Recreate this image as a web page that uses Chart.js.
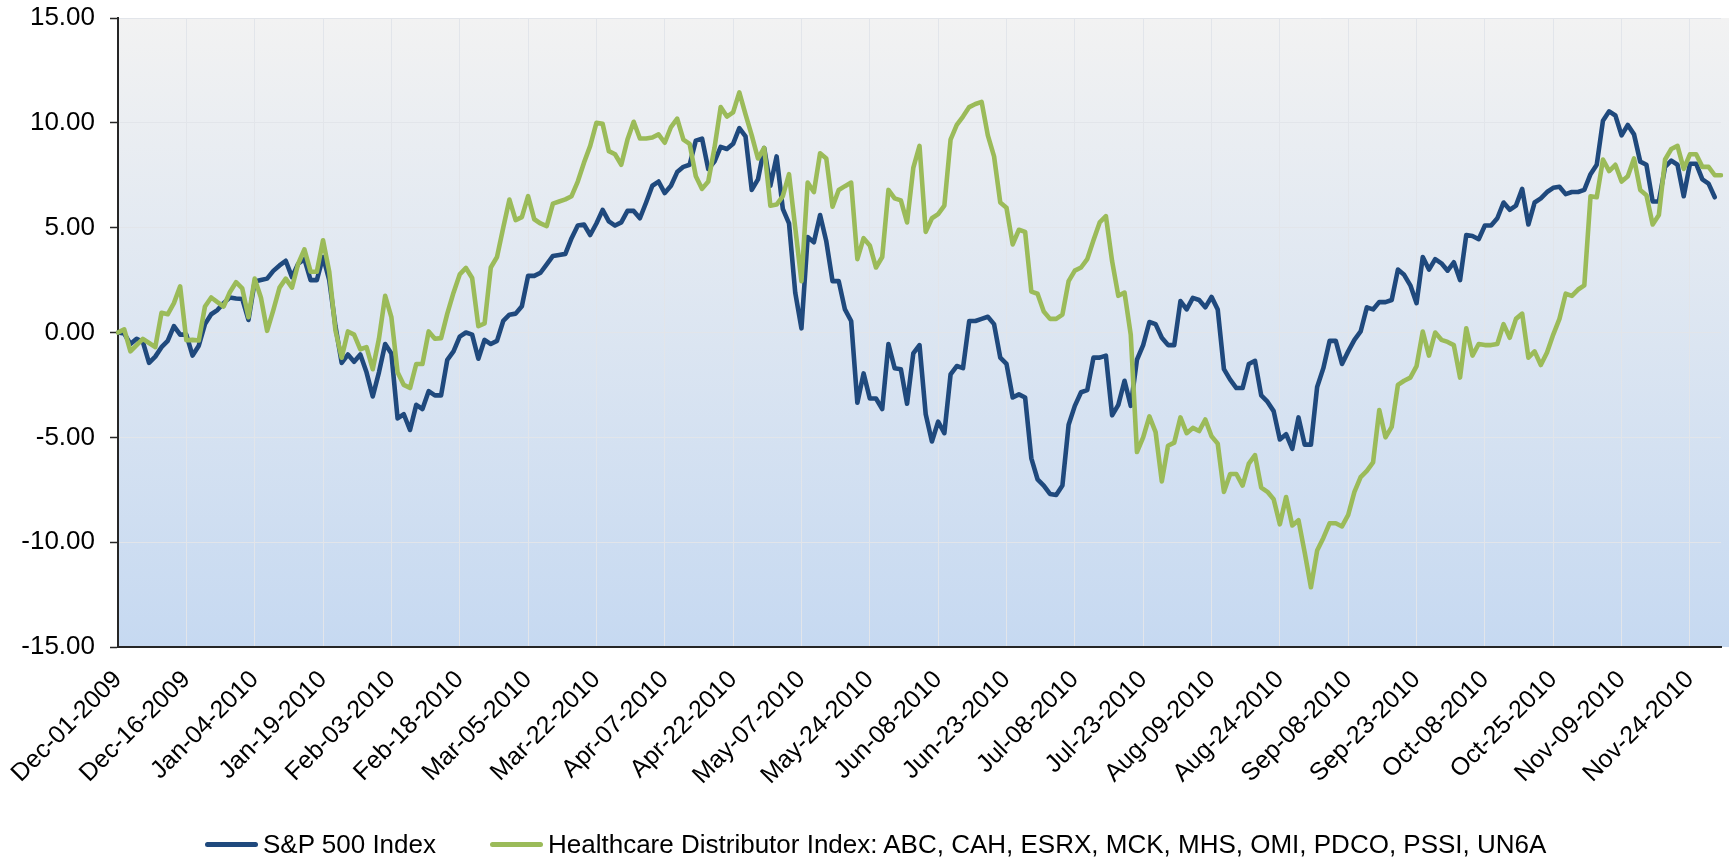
<!DOCTYPE html>
<html>
<head>
<meta charset="utf-8">
<title>S&amp;P 500 vs Healthcare Distributor Index</title>
<script src="https://cdn.jsdelivr.net/npm/chart.js@4/dist/chart.umd.min.js"></script>
<style>
  body { margin: 0; background: #fff; }
  #wrap { position: relative; width: 1729px; height: 858px; }
  #legend {
    position: absolute; left: 205px; top: 828px;
    display: flex; align-items: center; white-space: nowrap;
    font: 26px Arial, "Liberation Sans", sans-serif; color: #000; line-height: 32px;
  }
  .item { display: flex; align-items: center; }
  .item + .item { margin-left: 54px; }
  .swatch { display: inline-block; width: 53px; height: 5px; border-radius: 3px; margin-right: 5px; }
</style>
</head>
<body>
<div id="wrap">
  <canvas id="chart" width="1729" height="858"></canvas>
  <div id="legend"></div>
</div>
<script>
// tick labels, one every 11 trading days
const tickLabels = [
  "Dec-01-2009", "Dec-16-2009", "Jan-04-2010", "Jan-19-2010", "Feb-03-2010", "Feb-18-2010",
  "Mar-05-2010", "Mar-22-2010", "Apr-07-2010", "Apr-22-2010", "May-07-2010", "May-24-2010",
  "Jun-08-2010", "Jun-23-2010", "Jul-08-2010", "Jul-23-2010", "Aug-09-2010", "Aug-24-2010",
  "Sep-08-2010", "Sep-23-2010", "Oct-08-2010", "Oct-25-2010", "Nov-09-2010", "Nov-24-2010"
];
const tickEvery = 11;

const seriesNames = [
  "S&P 500 Index",
  "Healthcare Distributor Index: ABC, CAH, ESRX, MCK, MHS, OMI, PDCO, PSSI, UN6A"
];
const seriesColors = ["#1F497D", "#9BBB59"];

// % change
const spIndex = [
  0.0, -0.05, -0.55, -0.3, -0.45, -1.45, -1.15, -0.7, -0.4, 0.3, -0.1,
  -0.1, -1.1, -0.63, 0.4, 0.87, 1.07, 1.4, 1.67, 1.62, 1.6, 0.6,
  2.43, 2.5, 2.57, 2.94, 3.2, 3.42, 2.64, 3.28, 3.5, 2.5, 2.5,
  3.6, 2.5, 0.3, -1.45, -1.05, -1.4, -1.05, -1.9, -3.05, -1.9, -0.55,
  -1.0, -4.1, -3.9, -4.65, -3.45, -3.65, -2.8, -3.0, -3.0, -1.3, -0.9,
  -0.2, 0.0, -0.1, -1.25, -0.35, -0.55, -0.4, 0.55, 0.85, 0.9, 1.25,
  2.7, 2.7, 2.85, 3.25, 3.65, 3.7, 3.75, 4.5, 5.1, 5.15, 4.65,
  5.2, 5.85, 5.3, 5.1, 5.25, 5.8, 5.8, 5.45, 6.2, 7.0, 7.2,
  6.65, 7.0, 7.65, 7.9, 8.0, 9.15, 9.25, 7.8, 8.15, 8.85, 8.75,
  9.0, 9.75, 9.35, 6.8, 7.3, 8.8, 7.0, 8.4, 5.9, 5.2, 1.9,
  0.2, 4.55, 4.3, 5.6, 4.35, 2.45, 2.45, 1.1, 0.55, -3.35, -1.95,
  -3.15, -3.15, -3.65, -0.55, -1.7, -1.75, -3.4, -1.0, -0.6, -3.9, -5.2,
  -4.25, -4.8, -2.0, -1.6, -1.7, 0.55, 0.55, 0.65, 0.75, 0.4, -1.2,
  -1.5, -3.1, -2.95, -3.1, -6.0, -7.0, -7.3, -7.7, -7.75, -7.3, -4.4,
  -3.5, -2.85, -2.75, -1.2, -1.2, -1.1, -3.95, -3.45, -2.3, -3.5, -1.3,
  -0.6, 0.5, 0.4, -0.25, -0.6, -0.6, 1.5, 1.1, 1.65, 1.55, 1.2,
  1.7, 1.1, -1.75, -2.25, -2.65, -2.65, -1.5, -1.35, -3.0, -3.3, -3.75,
  -5.1, -4.85, -5.55, -4.05, -5.35, -5.35, -2.6, -1.7, -0.4, -0.4, -1.5,
  -0.9, -0.35, 0.05, 1.2, 1.1, 1.45, 1.45, 1.55, 3.0, 2.75, 2.25,
  1.4, 3.6, 3.0, 3.5, 3.3, 2.95, 3.35, 2.5, 4.65, 4.6, 4.45,
  5.1, 5.1, 5.45, 6.2, 5.85, 6.05, 6.85, 5.15, 6.2, 6.4, 6.7,
  6.9, 6.95, 6.6, 6.7, 6.7, 6.8, 7.55, 8.0, 10.1, 10.55, 10.35,
  9.4, 9.9, 9.45, 8.15, 8.0, 6.25, 6.25, 7.9, 8.2, 8.0, 6.5,
  8.05, 8.05, 7.3, 7.1, 6.45
];

const hcIndex = [
  0.0, 0.15, -0.9, -0.6, -0.3, -0.5, -0.7, 0.94, 0.87, 1.4, 2.2,
  -0.37, -0.35, -0.38, 1.24, 1.67, 1.45, 1.24, 1.92, 2.4, 2.1, 0.73,
  2.57, 1.67, 0.08, 1.07, 2.14, 2.57, 2.14, 3.28, 3.96, 2.9, 2.9,
  4.4, 2.9, 0.1, -1.2, 0.05, -0.1, -0.8, -0.7, -1.75, -0.3, 1.75,
  0.73, -1.9, -2.5, -2.65, -1.5, -1.5, 0.05, -0.3, -0.27, 0.9, 1.9,
  2.77, 3.08, 2.6, 0.3, 0.43, 3.1, 3.6, 5.0, 6.34, 5.36, 5.5,
  6.5, 5.4, 5.2, 5.07, 6.15, 6.25, 6.35, 6.5, 7.2, 8.1, 8.9,
  10.0, 9.95, 8.65, 8.5, 8.0, 9.2, 10.05, 9.25, 9.25, 9.3, 9.45,
  9.05, 9.8, 10.2, 9.2, 9.0, 7.45, 6.85, 7.2, 8.8, 10.75, 10.3,
  10.5, 11.45, 10.4, 9.4, 8.3, 8.8, 6.05, 6.1, 6.5, 7.55, 5.0,
  2.45, 7.15, 6.7, 8.55, 8.3, 6.0, 6.8, 6.98, 7.15, 3.5, 4.5,
  4.15, 3.1, 3.6, 6.8, 6.4, 6.3, 5.25, 7.85, 8.9, 4.8, 5.45,
  5.65, 6.05, 9.2, 9.9, 10.3, 10.75, 10.9, 11.0, 9.4, 8.4, 6.2,
  5.95, 4.2, 4.9, 4.8, 1.95, 1.85, 1.0, 0.65, 0.65, 0.85, 2.45,
  2.95, 3.1, 3.5, 4.4, 5.25, 5.55, 3.4, 1.75, 1.9, -0.1, -5.7,
  -5.0, -4.0, -4.75, -7.1, -5.4, -5.25, -4.05, -4.8, -4.55, -4.7, -4.15,
  -4.95, -5.3, -7.6, -6.75, -6.75, -7.3, -6.25, -5.85, -7.4, -7.6, -7.95,
  -9.15, -7.85, -9.2, -8.95, -10.5, -12.15, -10.4, -9.8, -9.1, -9.1, -9.25,
  -8.7, -7.6, -6.9, -6.6, -6.2, -3.7, -5.0, -4.5, -2.5, -2.3, -2.15,
  -1.6, 0.05, -1.1, 0.0, -0.35, -0.45, -0.6, -2.15, 0.2, -1.1, -0.55,
  -0.6, -0.6, -0.55, 0.4, -0.25, 0.65, 0.9, -1.2, -0.9, -1.55, -0.95,
  -0.1, 0.65, 1.85, 1.75, 2.05, 2.25, 6.5, 6.45, 8.25, 7.7, 8.0,
  7.2, 7.45, 8.3, 6.8, 6.55, 5.15, 5.6, 8.25, 8.75, 8.9, 7.8,
  8.5, 8.5, 7.9, 7.9, 7.5, 7.5
];

// category labels: only every 11th day gets a visible label
const labels = hcIndex.map((_, i) => (i % tickEvery === 0 ? (tickLabels[i / tickEvery] || "") : ""));

const FONT = 'Arial, "Liberation Sans", sans-serif';
const GRID = "#E2E5EA";
const AXIS = "#262626";

// gradient behind the plot, grey at the top going to light blue
const plotBackground = {
  id: "plotBackground",
  beforeDraw(chart) {
    const { ctx, chartArea: a } = chart;
    const g = ctx.createLinearGradient(0, a.top, 0, a.bottom);
    g.addColorStop(0, "#F2F2F2");
    g.addColorStop(1, "#C6D9F1");
    ctx.save();
    ctx.fillStyle = g;
    ctx.fillRect(a.left, a.top, chart.width - a.left, a.bottom - a.top);
    ctx.restore();
  }
};

const chart = new Chart(document.getElementById("chart"), {
  type: "line",
  data: {
    labels: labels,
    datasets: [
      {
        label: seriesNames[0],
        data: spIndex,
        borderColor: seriesColors[0],
        backgroundColor: seriesColors[0],
        borderWidth: 4.6,
        pointRadius: 0,
        tension: 0,
        borderJoinStyle: "round",
        borderCapStyle: "round",
        order: 1
      },
      {
        label: seriesNames[1],
        data: hcIndex,
        borderColor: seriesColors[1],
        backgroundColor: seriesColors[1],
        borderWidth: 4.6,
        pointRadius: 0,
        tension: 0,
        borderJoinStyle: "round",
        borderCapStyle: "round",
        order: 0
      }
    ]
  },
  options: {
    responsive: false,
    animation: false,
    events: [],
    layout: { padding: { top: 18, right: 8, bottom: 0, left: 0 } },
    plugins: {
      legend: { display: false },
      tooltip: { enabled: false }
    },
    scales: {
      x: {
        ticks: {
          autoSkip: false,
          maxRotation: 45,
          minRotation: 45,
          padding: 18,
          color: "#000",
          font: { family: FONT, size: 25 }
        },
        grid: {
          color: (ctx) => (ctx.index % tickEvery === 0 ? GRID : "rgba(0,0,0,0)"),
          drawTicks: false,
          lineWidth: 1
        },
        border: { color: AXIS, width: 2 },
        afterFit(scale) {
          scale.height = 211;
          scale.paddingLeft = 0;
          scale.paddingRight = 0;
        }
      },
      y: {
        min: -15,
        max: 15,
        ticks: {
          stepSize: 5,
          padding: 15,
          color: "#000",
          font: { family: FONT, size: 26 },
          callback: (v) => v.toFixed(2)
        },
        grid: { color: GRID, tickColor: AXIS, tickLength: 8, tickWidth: 1.5 },
        border: { color: AXIS, width: 2 },
        afterFit(scale) {
          scale.width = 118;
          scale.paddingTop = 0;
          scale.paddingBottom = 0;
        }
      }
    }
  },
  plugins: [plotBackground]
});

// legend below the chart
const legend = document.getElementById("legend");
seriesNames.forEach((name, i) => {
  const item = document.createElement("span");
  item.className = "item";
  item.innerHTML = '<span class="swatch" style="background:' + seriesColors[i] + '"></span>';
  item.appendChild(document.createTextNode(name));
  legend.appendChild(item);
});
</script>
</body>
</html>
